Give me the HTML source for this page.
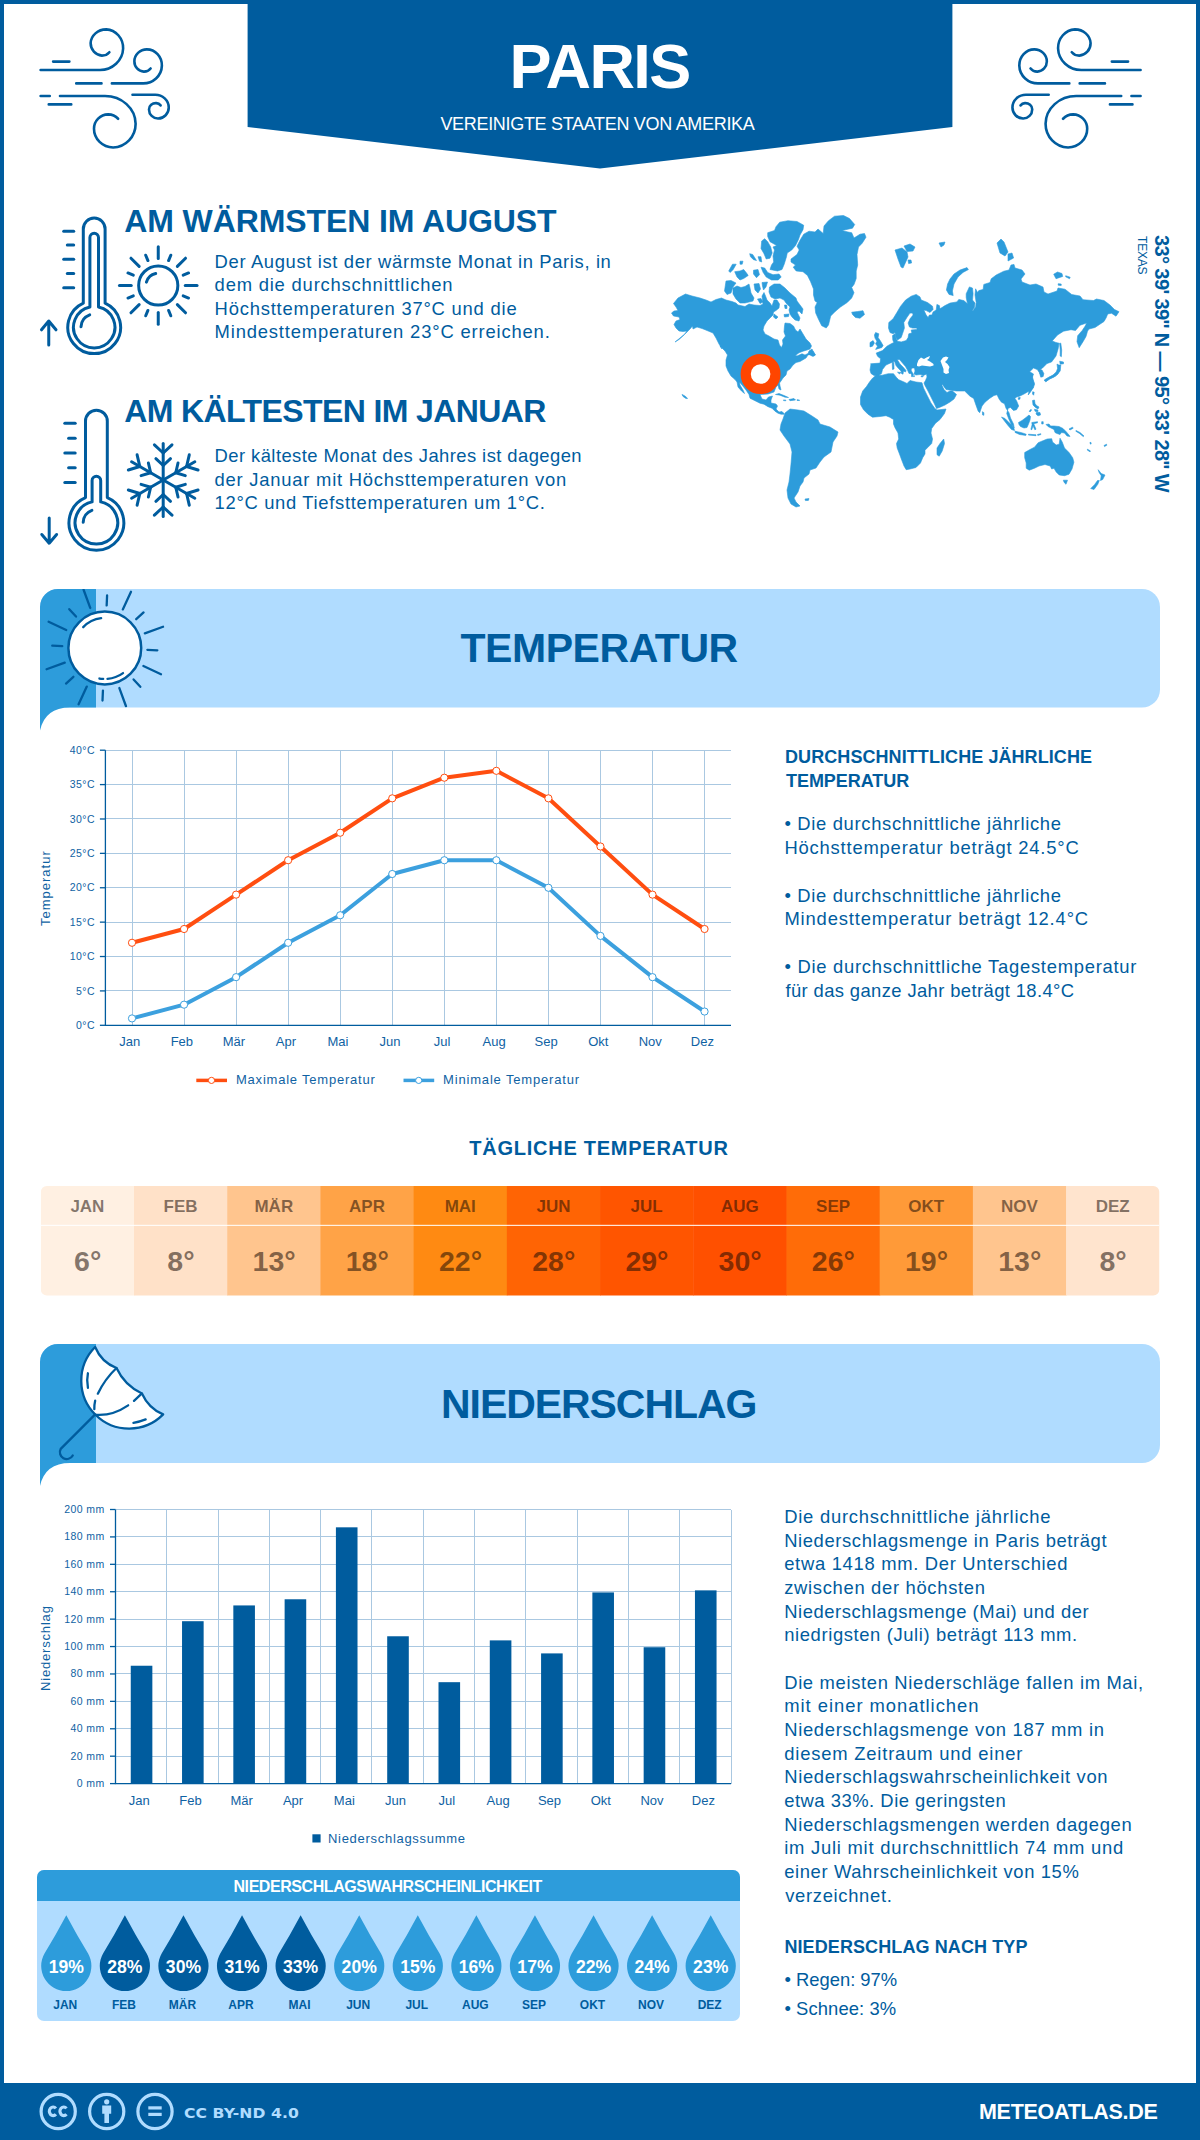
<!DOCTYPE html>
<html lang="de"><head><meta charset="utf-8"><title>Paris – Klima</title>
<style>
html,body{margin:0;padding:0;background:#fff}
#page{position:relative;width:1200px;height:2140px;overflow:hidden;font-family:'Liberation Sans', sans-serif}
.t{position:absolute;white-space:nowrap;margin:0;padding:0}
</style></head><body><div id="page">
<svg width="1200" height="2140" viewBox="0 0 1200 2140" style="position:absolute;left:0;top:0"><defs><clipPath id="cb1"><rect x="40" y="589" width="1120" height="118.5"/></clipPath></defs><rect x="0" y="0" width="1200" height="2140" fill="#005C9E"/><rect x="4" y="4" width="1192" height="2079" fill="#fff"/><path d="M247.6,0H952.4V127L600,168.5L247.6,127Z" fill="#005C9E"/><g fill="none" stroke="#005C9E" stroke-width="2.6" stroke-linecap="round"><path transform="translate(30,20)" d="M23.12,41.62H39.38M10.62,50.00H70.00A23.12,22.25 0 0 0 93.12,28.50A17.50,18.75 0 0 0 76.25,9.38A15.62,14.38 0 0 0 60.62,23.12A11.88,12.50 0 0 0 71.88,35.62A9.38,8.75 0 0 0 79.38,32.25M46.25,63.38H71.50M81.88,63.38H112.50A18.75,18.12 0 0 0 131.88,45.62A15.00,16.00 0 0 0 116.88,29.38A12.50,11.88 0 0 0 104.38,41.25A9.75,10.25 0 0 0 113.75,51.62A8.12,7.50 0 0 0 120.62,48.50M10.62,76.00H19.75M30.00,76.00H75.00A30.62,28.12 0 0 1 105.62,103.75A22.75,23.75 0 0 1 83.12,127.50A19.38,18.75 0 0 1 64.00,108.75A14.38,14.38 0 0 1 78.12,94.38A13.75,12.50 0 0 1 88.12,98.75M18.75,84.38H41.25M102.50,74.75H125.00A13.50,12.75 0 0 1 138.75,87.50A10.75,11.00 0 0 1 128.12,98.50A9.00,9.12 0 0 1 119.00,89.38A6.88,6.25 0 0 1 126.25,83.12A6.25,5.62 0 0 1 130.62,85.38"/><path transform="translate(1151.2,20) scale(-1,1)" d="M23.12,41.62H39.38M10.62,50.00H70.00A23.12,22.25 0 0 0 93.12,28.50A17.50,18.75 0 0 0 76.25,9.38A15.62,14.38 0 0 0 60.62,23.12A11.88,12.50 0 0 0 71.88,35.62A9.38,8.75 0 0 0 79.38,32.25M46.25,63.38H71.50M81.88,63.38H112.50A18.75,18.12 0 0 0 131.88,45.62A15.00,16.00 0 0 0 116.88,29.38A12.50,11.88 0 0 0 104.38,41.25A9.75,10.25 0 0 0 113.75,51.62A8.12,7.50 0 0 0 120.62,48.50M10.62,76.00H19.75M30.00,76.00H75.00A30.62,28.12 0 0 1 105.62,103.75A22.75,23.75 0 0 1 83.12,127.50A19.38,18.75 0 0 1 64.00,108.75A14.38,14.38 0 0 1 78.12,94.38A13.75,12.50 0 0 1 88.12,98.75M18.75,84.38H41.25M102.50,74.75H125.00A13.50,12.75 0 0 1 138.75,87.50A10.75,11.00 0 0 1 128.12,98.50A9.00,9.12 0 0 1 119.00,89.38A6.88,6.25 0 0 1 126.25,83.12A6.25,5.62 0 0 1 130.62,85.38"/></g><g fill="none" stroke="#005C9E" stroke-width="3" stroke-linecap="round" stroke-linejoin="round"><path d="M83.30,303.16V228.90A10.9,10.9 0 0 1 105.10,228.90V303.16A26.4,26.4 0 1 1 83.30,303.16Z"/><path d="M89.90,306.95V237.60A4.3,4.3 0 0 1 98.50,237.60V306.95A20.7,20.7 0 1 1 89.90,306.95Z"/><path d="M81.01,326.74A13.2,13.2 0 0 1 89.69,314.80"/><path d="M63.70,231.20H73.70"/><path d="M67.30,245.00H73.70"/><path d="M63.70,259.25H73.70"/><path d="M67.30,273.50H73.70"/><path d="M63.70,287.75H73.70"/><path d="M48.75,345V321.5M41.5,329.8L48.75,321L56,329.8"/><circle cx="158.25" cy="285.5" r="19.6"/><path d="M185.25,285.50L197.05,285.50"/><path d="M183.19,295.83L188.55,298.05"/><path d="M177.34,304.59L185.54,312.79"/><path d="M168.58,310.44L170.80,315.80"/><path d="M158.25,312.50L158.25,324.30"/><path d="M147.92,310.44L145.70,315.80"/><path d="M139.16,304.59L130.96,312.79"/><path d="M133.31,295.83L127.95,298.05"/><path d="M131.25,285.50L119.45,285.50"/><path d="M133.31,275.17L127.95,272.95"/><path d="M139.16,266.41L130.96,258.21"/><path d="M147.92,260.56L145.70,255.20"/><path d="M158.25,258.50L158.25,246.70"/><path d="M168.58,260.56L170.80,255.20"/><path d="M177.34,266.41L185.54,258.21"/><path d="M183.19,275.17L188.55,272.95"/><path d="M146.43,282.11A12.3,12.3 0 0 1 155.69,273.47"/><path d="M85.50,497.61V421.10A10.9,10.9 0 0 1 107.30,421.10V497.61A27.4,27.4 0 1 1 85.50,497.61Z"/><path d="M92.10,501.89V480.50A4.3,4.3 0 0 1 100.70,480.50V501.89A21.3,21.3 0 1 1 92.10,501.89Z"/><path d="M83.21,522.29A13.2,13.2 0 0 1 91.89,510.35"/><path d="M64.80,423.30H75.20"/><path d="M68.60,438.30H75.20"/><path d="M64.80,453.00H75.20"/><path d="M68.60,467.70H75.20"/><path d="M64.80,482.50H75.20"/><path d="M49.2,518V542M41.8,534.5L49.2,543.2L56.6,534.5"/><path d="M163.20,480.00L163.20,443.50"/><path d="M163.20,453.00L154.42,444.82"/><path d="M163.20,453.00L171.98,444.82"/><path d="M163.20,465.50L155.89,458.68"/><path d="M163.20,465.50L170.51,458.68"/><path d="M163.20,480.00L194.81,461.75"/><path d="M186.58,466.50L189.28,454.81"/><path d="M186.58,466.50L198.06,470.01"/><path d="M175.76,472.75L178.01,463.01"/><path d="M175.76,472.75L185.32,475.67"/><path d="M163.20,480.00L194.81,498.25"/><path d="M186.58,493.50L198.06,489.99"/><path d="M186.58,493.50L189.28,505.19"/><path d="M175.76,487.25L185.32,484.33"/><path d="M175.76,487.25L178.01,496.99"/><path d="M163.20,480.00L163.20,516.50"/><path d="M163.20,507.00L171.98,515.18"/><path d="M163.20,507.00L154.42,515.18"/><path d="M163.20,494.50L170.51,501.32"/><path d="M163.20,494.50L155.89,501.32"/><path d="M163.20,480.00L131.59,498.25"/><path d="M139.82,493.50L137.12,505.19"/><path d="M139.82,493.50L128.34,489.99"/><path d="M150.64,487.25L148.39,496.99"/><path d="M150.64,487.25L141.08,484.33"/><path d="M163.20,480.00L131.59,461.75"/><path d="M139.82,466.50L128.34,470.01"/><path d="M139.82,466.50L137.12,454.81"/><path d="M150.64,472.75L141.08,475.67"/><path d="M150.64,472.75L148.39,463.01"/></g><path d="M673.5,303.5 678,298 685.5,294 692,296 700,298 706,300 711,302 716,299.5 721.5,298 726,300 732,301.5 736,303 738,305 745,306.5 749,304 754,305 760,305.5 763,304 762,296 764,292.5 765.5,296 767,300 770,303 772,306 774,300 777,300 779.5,304 779,308 776,310.5 773.5,312 773,315 770,318 767,321 764,326 763,330 765,334 769,336 774,339 778,340 779.5,345 781.5,347.5 783,344 782.5,340 785.5,336 784,332 784.5,326 785,323 790,323.5 793.5,326 795.5,330 798,332 800,329 803,334 806,339 810,343 811.5,346 810,349 807,350 803,351.2 799,352.8 795,355.8 797.5,355.8 802,353.8 805,355 813,351 815.5,355 813,356.5 810,354 808,355 806,358 800,361.5 796,362.5 793,365 790,369 787,371 786,375 783,378 781,381 779.5,383 780,386 781,390 779,389 778,385 776,387 774,392 768,394 760,394.5 762,399 766,400 768.5,397 772.5,396 771,400 771,403 776,404 777.5,406 776,409 779,412 782,411.5 784,413.5 784,414.2 781,414.2 778,413.2 775,411.2 772,408.2 768,406.7 764,404.2 760,403.2 754,400.2 750,398.2 749,394.5 746,390 742,385 739.5,382 740,385 743,390 744.5,393.5 741.5,391 738,387 737,382 735,379.5 731,376 728,371 726,366 726,360 727.5,355 725,351 720,346 722,349 719,344 716,338 713,333 707,330.5 702,328.5 697,327 693,329 692.5,326 690,329 686,333 680,338 675,342 679,339.5 684,335 687,331 683,331.5 679,331 676,328 674,324.5 676,321 680,319.5 679,317 673.5,316 671.5,313 674,311 678,310.5 676,307ZM809,351 812,349 815,355 812,356 808,354ZM767.7,232.7 774.5,230.5 776,226.7 779.7,222.2 788,220.7 797,221.5 803.7,225.2 803,229.7 800,235 798.5,239.5 795.5,245.5 791.7,250 787.2,253 786.5,256.7 784.2,264.2 782,269.5 777.5,271 770,269.5 771.5,265 773.7,262 773,256 774.5,250 773,247 776.7,245.5 770,241.7 767.7,236.5ZM761.7,241 764.7,238.7 767.7,241.7 770.7,247 772.2,253 770,258.2 766.2,259 764,253.7 761,248.5ZM761,267.2 764.7,268 767.7,272.5 773,274.7 779,274 781.2,277 778.2,280 771.5,280 766.2,277 763.2,272.5ZM734.7,271.7 740,271 743.7,269.5 746.7,273.2 748.2,275.5 743.7,278.5 740,280 737,277ZM753.5,270.2 758,269.5 759.5,274.7 756.5,277.7 753.5,274ZM728.7,271 732.5,264.2 736.2,264.2 733.2,269.5 730.2,272.5ZM740,261.2 743,261.2 742.2,264.2 740,264.2ZM749.7,253.7 752.7,254.5 756.5,260.5 753.5,259.7 750.5,256.7ZM758,256.7 761,256.7 761.7,262 759.5,261.2ZM769.5,287 774,284 780,284 785,288 790,293 796,298 797,301 803,309 802,314 799,311 797,312 800,318 799,321 795,320 792,317 790,314 789,310 790,307 786,303 784,300 780,298 775,299 771,297 769,292ZM733,288 737,286 741,287.5 745,286.5 749,284 750,288 751,293 754,298 753,301 749,302 745,303 740,303 736,299 733,294ZM726,281 731,280.5 736,283 733,287 731,293 727,294.5 724.5,291ZM754,284 759,283.5 760.5,289 758,293 755,290ZM762,282.5 767.5,282 766,287 763.5,290 762.5,286ZM757.5,299 761,298.5 763,302 760,303.5ZM784,314.5 789,314 788.5,316.5 784.5,317ZM774,314 778,317 776,319 773.5,317ZM784.5,305 786.8,305 787,308.5 785,308.5ZM803.7,234.2 809,231.2 815,232 818,229 823.2,233.5 824,226 828.5,220.7 834.5,216.2 843.5,215.5 849.5,218.5 854.7,224.5 852.5,228.2 842,230.5 848,232 851.7,232.7 854,238 860,234.2 864.5,233.5 866,237.2 862.2,243.2 858.5,247 857,254.5 857.7,265 856.2,271 856.2,278.5 854,284.5 851.7,287.5 854,292.7 851.7,298 847.2,302.5 840.5,307 835.2,311.5 830.7,316 828.5,325 826.2,328 821.7,325.7 818.7,319.7 815.7,313 815,307 817.2,302.5 815,301 813.5,295 813.5,289 810.5,281.5 807.5,275.5 803,271.7 796.2,271 793.2,267.2 795.5,265 791,262 791,259 797,254.5 799.2,250 797,246.2 800,240.2ZM851.7,312.2 857.7,311.5 863,310.7 864.5,314.5 860,318.2 855.5,317.5 852.5,314.5ZM785,413 790,409 798,410 804,411 812,416 818,420 820,424 830,427 838,432 837,436 833,442 831,452 824,457 820,462 816,468 810,470 809,474 804,478 803,482 800,486 798,492 794,498 796,502 800,506 796,507 791,504 788,498 787,490 789,482 790,474 791,464 792,452 790,444 784,436 780,430 781,424 783,419ZM775.5,394.5 779,393.5 784,395.5 788.5,397.5 785,397.2 780,395.2ZM789,399.5 794,398.5 795.5,400 790,400.7ZM797,399.7 799.5,400 799.4,400.6 797,400.4ZM783.5,399.9 786,400.2 785.8,400.8 783.6,400.6ZM805,499 809,498.6 808.4,500.4 805.4,500.6ZM682,394.4 685,396 687.6,398.4 686,398.6 683,396.4ZM876.2,375.2 882.2,375.2 888.2,373.7 893.5,373.7 896.5,377.5 898.7,379.7 904,382 907,383.5 910,380.5 916,382 922,382.7 923.5,388 927.2,395.5 931,403 934.9,408.5 937,410 946,409 944.5,413.5 940,419.5 935.5,423.2 931.7,428.5 931,433 932.5,439 931.7,443.5 928,447.2 925,450.2 925,454 922.7,457.7 920.5,463 916,467.5 910,469 906.2,469.7 904,466 901.7,460 899.5,454 897.2,448 896.5,443.5 898.7,439 898,433 895,427.7 893.5,424 893.5,419.5 889.7,417.2 886,415.7 880,416.5 872.5,417.2 868,414.2 863.5,409.7 860.5,404.5 860.5,397 862.7,391 866.5,386.5 869.5,382 872.5,378.2ZM943.7,439 944.5,443.5 942.2,451 939.2,456.2 937,454.7 937,448 940,443.5ZM870.6,363.8 880,363.1 880.6,358.8 877.5,356.2 876.2,353.1 882.5,350.6 886.9,346.2 891.2,343.8 893.8,342.5 892.8,340 892.5,335.6 895,333.8 896.2,338.8 897.5,341.2 901.2,341.9 906.2,340.6 908.1,337.5 908.8,333.8 911.9,333.1 911.2,330 916.9,329.4 916.9,328.1 912.5,328.1 909.4,326.9 908.1,323.1 910,318.8 913.1,315 912.5,313.1 910,313.1 906.9,317.5 903.8,322.5 904.4,328.1 902.5,333.8 901.2,337.5 897.5,340 896.2,338.1 895,332.5 893.1,333.8 890,332.5 888.5,328.1 888.8,322.5 893.1,318.8 896.9,312.5 900.6,306.2 905.6,300 911.2,296.2 916.2,294.4 920,296.9 921.2,300 927.5,302.5 932.5,306.2 933.1,309.4 930,312.5 926.2,310.6 923.8,310 926.2,315 928.1,317.5 929.4,315 931.9,315 933.1,311.9 936.2,310 936.9,304.4 939.4,305.6 940,308.8 945,305.6 950,303.1 956.9,301.9 958.8,299.4 963.8,300.6 967.5,303.8 966.2,297.5 966.2,293.8 969.4,286.9 972.5,288.1 973.1,293.8 972.5,300 975,303.1 974.4,307.5 971.9,311.2 973.1,310.6 975.6,306.9 976.2,302.5 975,295 975.6,288.8 977.5,292.5 978.8,290.6 983.1,289.4 983.8,284.4 990,282.5 991.2,278.8 996.2,275 1003.8,271.2 1009,270 1011,265 1014,264.4 1015,268 1022,270 1025,274 1021,279 1022,282 1030,285 1036,284 1043,287 1044,292 1048,294 1057,291 1058,288 1065,289.2 1071.7,294.5 1080,296 1083,299.7 1093.5,300.5 1096.5,299 1104,300.5 1110,305 1114.5,309.5 1119,311.7 1116,316.2 1111.5,313.2 1107.7,314 1106.2,317.7 1104,321.5 1099.5,324.5 1095,327.5 1089,329 1087.5,331.2 1086,336.5 1083,341.7 1079.2,347.7 1077,341.7 1077.7,335.7 1082.2,330.5 1085.2,326 1086.7,323 1080,325.2 1075.5,330.5 1071,329.7 1063.5,331.2 1057.5,335 1052.2,341 1056,342.5 1059,343.2 1058.2,348.5 1056,356 1051.5,362 1047,363.5 1042.5,368 1039.5,370.2 1041,371 1043.2,374 1041.7,377 1039.5,372.5 1037.2,369.5 1033.5,368 1029.7,371.7 1033.5,374 1032,378.5 1034.2,383 1033.5,387.5 1030.5,392 1028.2,395 1032.2,376 1034.5,384.2 1033,388 1029.2,391 1024,394 1019.5,396.2 1016.5,397 1015,398.5 1016.5,400.7 1018.7,406 1016.5,409.7 1013.5,410.5 1010.5,407.5 1008.2,408.2 1006.7,413.5 1009,419.5 1012,425.5 1014.2,427.7 1013.5,424 1010.5,418 1009,412.7 1006,408.2 1004.5,403.7 1001.5,402.2 999.2,399.2 997,394.7 994,395.5 989.5,398.5 985,402.2 982,406 979.7,412.7 978.2,411.2 976,405.2 973.7,398.5 970,396.2 964.7,391 956.5,391 950.5,390.2 946,389.5 942.2,384.2 942,385.5 944,389.5 947,392.5 950,391 952.5,391 956.5,394.5 954,399 950,402 945,405 940,407.2 936.5,408.5 934.5,404 931,397 928,391 925,385.5 924,383 925.5,380.5 927,377 926.5,374 924,375.2 920,374.5 916,375 914,374 915,371 914.5,368 912,368 911,370 912,372 913.5,374.5 912,376 911,373.5 909,373.5 907.5,370 905.5,366.5 902.5,363 899.5,359.5 897.2,359.5 894.5,361.2 890,363.2 886,365 882.5,369.5 881.5,373.5 877.5,376.2 874,375.5 871,373.5 870,370 871,364ZM894.5,361.2 897.2,359.5 900,364 903,367 906,370.5 905.5,372 903.5,371 903,374.2 901.5,373.5 901,371 898.5,368.5 896,365.5ZM897.5,372.2 901,372.5 899.5,374ZM892.2,362.5 893.8,362.5 894,369 892.5,369.5ZM911.5,375.7 914.5,375.7 914.5,376.6 911.5,376.6ZM921,376 923.5,375.5 923,376.8 921.2,376.8ZM875.6,332.5 878.8,333.8 878.1,337.5 880.6,341.2 883.1,345.6 881.9,347.5 875.6,349.4 877.5,346.2 875.6,343.8 876.9,341.2 875,338.1 874.4,335ZM870,342.5 873.1,340.6 874.4,343.1 872.5,346.2 870,346.9ZM895,250 902,248 907,252 908,257 903,268 901,267 898,259ZM904,246 910,244 915,247 913,251 907,251.6ZM908,260 911,260 911.6,263 908.6,263.6ZM939,243 945,242 944,245 941,247ZM967,267.6 968.4,269.6 963,272.4 958,277 954,284 952.4,291 953.2,295.6 949,294.4 946.4,290 947.6,284 950,279 954,274 960,270ZM997,243 1001,239 1004,242 1008,252 1005,256 1000,253ZM1008,254 1012,253 1013.6,258 1008,261ZM1053.7,274.2 1057.5,272 1062,273.5 1062.7,276.5 1056,278.7ZM1065.7,275.7 1070.2,277.2 1069.5,278.7 1065.7,276.8ZM1058.2,283.7 1061.2,284 1061.2,285.5 1058.2,285.2ZM1059.6,343.2 1060.8,343.2 1061.7,350 1061.4,356.7 1060.2,356 1060.2,350ZM1059.7,361.2 1063.5,362 1063.5,363.8 1060.2,364.2ZM1058.7,365 1060.8,365 1060.2,371 1056,375.8 1050,378.8 1045.5,381.8 1044.3,380 1048.5,377.4 1053.7,375.2 1057.8,371ZM1038.5,369 1042,370 1043.8,373.5 1043.2,376.5 1040.8,377.2 1039.8,374 1039,371.5ZM1057,364 1059.5,365.5 1059.8,370 1058,374 1054,377 1049.5,379 1046,381.5 1044.5,380 1048.5,377.5 1053,375 1056.2,372 1057.6,368.5ZM982.4,411.7 983.9,412.7 983.8,415.3 982.6,415ZM1032.7,391.7 1034.2,392.2 1033.6,395.2 1032.5,394ZM1018.3,397.7 1020.2,397.4 1019.9,399.2 1018.3,399.4ZM1015,431.2 1021.7,432.7 1026.2,434.2 1025.8,435.4 1019.5,434.5 1015,432.4ZM1028.5,434.2 1036,434.8 1036,435.7 1028.5,435.1ZM1037.5,434.5 1040.8,433.7 1040.8,434.6 1037.8,435.4ZM1031.8,422.5 1037.5,421.7 1037.5,422.8 1033.7,423.7 1036,429.2 1034.8,429.7 1033,425.8 1031.8,429.7 1030.9,429.4 1032.1,424.7ZM1029.2,411.2 1031,409.3 1031.5,410.2 1030,412ZM1041.7,421.7 1043.2,421.7 1043.2,424 1041.7,424ZM1018.5,422.5 1022,420.5 1026,417.5 1029,415 1030.5,416.5 1030,420 1028.5,424 1027,427.5 1024,428 1020.5,426.5 1019,424.5ZM1001.5,417 1005,418.5 1009.5,423 1013.5,426.5 1014.5,430.5 1011.5,429.5 1008,425.5 1004.5,421ZM1032.5,400.5 1034.5,400 1035,403.5 1036.5,405.5 1039,407 1038,409 1035.5,407.5 1033,405ZM1034.5,409.2 1038,410 1037.8,411.8 1035,411.2ZM1036.5,412.2 1040,412.5 1040.5,415 1038,415.8 1036,414ZM1046,424.5 1049,424 1050.5,426 1054,426 1059,426.5 1063,428.5 1066,431.5 1069,435 1070,436.5 1067,436 1064.5,433 1061.5,432.5 1060,434.5 1057,433.5 1055,432.5 1054,429.5 1051,428 1048,426.5ZM1069,429 1072.5,427.2 1073.2,428.2 1070,430ZM1076,430.5 1080,432.5 1084,436 1083.2,436.6 1079.5,433.5 1075.8,431.2ZM1090,442.2 1091.2,442.8 1091,444.2 1090,443.6ZM1087.5,449.2 1090.5,451 1090,451.8 1087.2,450ZM1104,445.5 1106.5,444.2 1106.8,445.2 1104.5,446.6ZM1024.7,452.5 1030,449.5 1034.5,447.2 1038.2,442.7 1043.5,440.5 1047.2,439 1051.7,438.7 1052.5,442 1056.2,445 1059.2,444.2 1060,438.2 1062.2,442 1064.5,448 1069,452.5 1072.7,457.7 1073.9,462.2 1072,469 1069,474.2 1064.5,475.7 1059.2,475 1056.2,472 1054,468.2 1051.7,469 1050.2,466 1045,464.5 1039,466 1034.5,468.2 1029.2,470.2 1026.2,468.2 1026.2,463 1024.7,457.7ZM1063.3,480.2 1067.5,480.2 1066,484.3 1064.2,482.5ZM1098.2,469.7 1101.2,473.5 1105,475 1102.7,479.5 1100.5,480.5 1101.2,475.7 1099,472.3ZM1099.3,480.5 1097.8,484.3 1094,489.5 1090.7,488.5 1094.5,484.7 1097.5,480.5Z" fill="#2D9CDB" stroke="#2D9CDB" stroke-width="0.6" stroke-linejoin="round"/><path d="M917,364 918.5,360 921,357.5 924,359 926.5,357.5 930,356 929,358.5 927,360 930,361.5 933.5,364 933.5,365.5 930,366.5 926,366 922,365.5 919,366.5 917,366ZM940.5,361 943,357.5 946,356.5 948.5,357.5 947,360 945,362 947.5,364 949.5,367 948.5,370 949,373 946,374 943.5,372.5 943.5,369 942,365Z" fill="#fff"/><circle cx="760.6" cy="374" r="14.9" fill="#fff" stroke="#FF4500" stroke-width="10.2"/><path d="M40,607A18,18 0 0 1 58,589H1142A18,18 0 0 1 1160,607V689.5A18,18 0 0 1 1142,707.5H40Z" fill="#B0DCFF"/><path d="M40,607A18,18 0 0 1 58,589H96V707.5H70Q45,707.5 40,730.5Z" fill="#2D9CDB"/><g stroke="#005C9E" stroke-width="2.3" stroke-linecap="round" fill="none" clip-path="url(#cb1)"><path d="M106.66,605.44L107.09,595.45"/><path d="M122.80,609.39L131.00,591.81"/><path d="M136.21,619.22L143.58,612.46"/><path d="M144.83,633.43L163.06,626.79"/><path d="M147.36,649.86L157.35,650.29"/><path d="M143.41,666.00L160.99,674.20"/><path d="M133.58,679.41L140.34,686.78"/><path d="M119.37,688.03L126.01,706.26"/><path d="M102.94,690.56L102.51,700.55"/><path d="M86.80,686.61L78.60,704.19"/><path d="M73.39,676.78L66.02,683.54"/><path d="M64.77,662.57L46.54,669.21"/><path d="M62.24,646.14L52.25,645.71"/><path d="M66.19,630.00L48.61,621.80"/><path d="M76.02,616.59L69.26,609.22"/><path d="M90.23,607.97L83.59,589.74"/><circle cx="104.8" cy="648" r="36.4" fill="#fff" stroke-width="2.5"/><path d="M83.22,627.16A30,30 0 0 1 101.14,618.22"/><path d="M123.02,673.08A31,31 0 0 1 107.50,678.88"/><path d="M103.18,678.96A31,31 0 0 1 99.42,678.53"/></g><path d="M40,1362A18,18 0 0 1 58,1344H1142A18,18 0 0 1 1160,1362V1445A18,18 0 0 1 1142,1463H40Z" fill="#B0DCFF"/><path d="M40,1362A18,18 0 0 1 58,1344H96V1463H70Q45,1463 40,1486Z" fill="#2D9CDB"/><g stroke="#005C9E" stroke-width="2.3" stroke-linecap="round" stroke-linejoin="round" fill="none"><path fill="#fff" d="M95.15,1347.00A47.25,47.25 0 0 0 163.17,1414.43Q148.58,1408.25 141.93,1393.43Q124.67,1385.50 116.50,1368.00Q101.33,1362.17 95.15,1347.00Z"/><path d="M94.33,1409.07Q94.10,1405.33 95.15,1400.67"/><path d="M97.83,1393.67Q104.83,1379.08 116.50,1368.00"/><path d="M94.92,1414.67Q111.83,1416.42 128.17,1405.33"/><path d="M134.00,1400.90L141.93,1393.43"/><path d="M87.92,1373.25Q86.40,1380.25 87.92,1387.83"/><path d="M133.42,1422.83Q139.83,1421.67 145.67,1419.33"/><path d="M94.92,1414.67L60.73,1448.85A6.42,6.42 0 0 0 72.75,1455.50"/></g><g stroke="#AAC8E1" stroke-width="1" shape-rendering="crispEdges"><path d="M105.4,1025.30H731"/><path d="M105.4,990.91H731"/><path d="M105.4,956.52H731"/><path d="M105.4,922.14H731"/><path d="M105.4,887.75H731"/><path d="M105.4,853.36H731"/><path d="M105.4,818.98H731"/><path d="M105.4,784.59H731"/><path d="M105.4,750.20H731"/><path d="M132.00,750.2V1025.3"/><path d="M184.05,750.2V1025.3"/><path d="M236.10,750.2V1025.3"/><path d="M288.15,750.2V1025.3"/><path d="M340.20,750.2V1025.3"/><path d="M392.25,750.2V1025.3"/><path d="M444.30,750.2V1025.3"/><path d="M496.35,750.2V1025.3"/><path d="M548.40,750.2V1025.3"/><path d="M600.45,750.2V1025.3"/><path d="M652.50,750.2V1025.3"/><path d="M704.55,750.2V1025.3"/></g><g stroke="#005C9E" stroke-width="1.3" fill="none"><path d="M105.4,750.2V1025.3H731"/><path d="M99.9,1025.30H105.4"/><path d="M99.9,990.91H105.4"/><path d="M99.9,956.52H105.4"/><path d="M99.9,922.14H105.4"/><path d="M99.9,887.75H105.4"/><path d="M99.9,853.36H105.4"/><path d="M99.9,818.98H105.4"/><path d="M99.9,784.59H105.4"/><path d="M99.9,750.20H105.4"/></g><path d="M132.00,942.77 L184.05,929.01 L236.10,894.63 L288.15,860.24 L340.20,832.73 L392.25,798.34 L444.30,777.71 L496.35,770.83 L548.40,798.34 L600.45,846.49 L652.50,894.63 L704.55,929.01" fill="none" stroke="#FF4E10" stroke-width="4" stroke-linejoin="round" stroke-linecap="round"/><circle cx="132.00" cy="942.77" r="3.6" fill="#fff" stroke="#FF4E10" stroke-width="1"/><circle cx="184.05" cy="929.01" r="3.6" fill="#fff" stroke="#FF4E10" stroke-width="1"/><circle cx="236.10" cy="894.63" r="3.6" fill="#fff" stroke="#FF4E10" stroke-width="1"/><circle cx="288.15" cy="860.24" r="3.6" fill="#fff" stroke="#FF4E10" stroke-width="1"/><circle cx="340.20" cy="832.73" r="3.6" fill="#fff" stroke="#FF4E10" stroke-width="1"/><circle cx="392.25" cy="798.34" r="3.6" fill="#fff" stroke="#FF4E10" stroke-width="1"/><circle cx="444.30" cy="777.71" r="3.6" fill="#fff" stroke="#FF4E10" stroke-width="1"/><circle cx="496.35" cy="770.83" r="3.6" fill="#fff" stroke="#FF4E10" stroke-width="1"/><circle cx="548.40" cy="798.34" r="3.6" fill="#fff" stroke="#FF4E10" stroke-width="1"/><circle cx="600.45" cy="846.49" r="3.6" fill="#fff" stroke="#FF4E10" stroke-width="1"/><circle cx="652.50" cy="894.63" r="3.6" fill="#fff" stroke="#FF4E10" stroke-width="1"/><circle cx="704.55" cy="929.01" r="3.6" fill="#fff" stroke="#FF4E10" stroke-width="1"/><path d="M132.00,1018.42 L184.05,1004.67 L236.10,977.16 L288.15,942.77 L340.20,915.26 L392.25,874.00 L444.30,860.24 L496.35,860.24 L548.40,887.75 L600.45,935.89 L652.50,977.16 L704.55,1011.54" fill="none" stroke="#3CA0DE" stroke-width="4" stroke-linejoin="round" stroke-linecap="round"/><circle cx="132.00" cy="1018.42" r="3.6" fill="#fff" stroke="#3CA0DE" stroke-width="1"/><circle cx="184.05" cy="1004.67" r="3.6" fill="#fff" stroke="#3CA0DE" stroke-width="1"/><circle cx="236.10" cy="977.16" r="3.6" fill="#fff" stroke="#3CA0DE" stroke-width="1"/><circle cx="288.15" cy="942.77" r="3.6" fill="#fff" stroke="#3CA0DE" stroke-width="1"/><circle cx="340.20" cy="915.26" r="3.6" fill="#fff" stroke="#3CA0DE" stroke-width="1"/><circle cx="392.25" cy="874.00" r="3.6" fill="#fff" stroke="#3CA0DE" stroke-width="1"/><circle cx="444.30" cy="860.24" r="3.6" fill="#fff" stroke="#3CA0DE" stroke-width="1"/><circle cx="496.35" cy="860.24" r="3.6" fill="#fff" stroke="#3CA0DE" stroke-width="1"/><circle cx="548.40" cy="887.75" r="3.6" fill="#fff" stroke="#3CA0DE" stroke-width="1"/><circle cx="600.45" cy="935.89" r="3.6" fill="#fff" stroke="#3CA0DE" stroke-width="1"/><circle cx="652.50" cy="977.16" r="3.6" fill="#fff" stroke="#3CA0DE" stroke-width="1"/><circle cx="704.55" cy="1011.54" r="3.6" fill="#fff" stroke="#3CA0DE" stroke-width="1"/><path d="M196.3,1080.4H227.0" stroke="#FF4E10" stroke-width="3.5"/><circle cx="211.5" cy="1080.4" r="3.1" fill="#fff" stroke="#FF4E10" stroke-width="1"/><path d="M403.5,1080.4H434.2" stroke="#3CA0DE" stroke-width="3.5"/><circle cx="418.7" cy="1080.4" r="3.1" fill="#fff" stroke="#3CA0DE" stroke-width="1"/><clipPath id="ctab"><rect x="40.80" y="1186" width="1118.50" height="109.5" rx="6"/></clipPath><g clip-path="url(#ctab)"><rect x="40.80" y="1186" width="93.71" height="110" fill="#FFF0E2"/><rect x="134.01" y="1186" width="93.71" height="110" fill="#FFE1C8"/><rect x="227.22" y="1186" width="93.71" height="110" fill="#FFC58E"/><rect x="320.43" y="1186" width="93.71" height="110" fill="#FFA347"/><rect x="413.63" y="1186" width="93.71" height="110" fill="#FF8A12"/><rect x="506.84" y="1186" width="93.71" height="110" fill="#FF6404"/><rect x="600.05" y="1186" width="93.71" height="110" fill="#FF5500"/><rect x="693.26" y="1186" width="93.71" height="110" fill="#FF5000"/><rect x="786.47" y="1186" width="93.71" height="110" fill="#FF6C08"/><rect x="879.67" y="1186" width="93.71" height="110" fill="#FF9A38"/><rect x="972.88" y="1186" width="93.71" height="110" fill="#FFC58E"/><rect x="1066.09" y="1186" width="93.71" height="110" fill="#FFE4CE"/><rect x="40.8" y="1224.8" width="1118.5" height="1.2" fill="#fff" opacity="0.85"/></g><g stroke="#AAC8E1" stroke-width="1" shape-rendering="crispEdges"><path d="M115.5,1783.60H731"/><path d="M115.5,1756.19H731"/><path d="M115.5,1728.78H731"/><path d="M115.5,1701.37H731"/><path d="M115.5,1673.96H731"/><path d="M115.5,1646.55H731"/><path d="M115.5,1619.14H731"/><path d="M115.5,1591.73H731"/><path d="M115.5,1564.32H731"/><path d="M115.5,1536.91H731"/><path d="M115.5,1509.50H731"/><path d="M166.79,1509.5V1783.6"/><path d="M218.08,1509.5V1783.6"/><path d="M269.38,1509.5V1783.6"/><path d="M320.67,1509.5V1783.6"/><path d="M371.96,1509.5V1783.6"/><path d="M423.25,1509.5V1783.6"/><path d="M474.54,1509.5V1783.6"/><path d="M525.83,1509.5V1783.6"/><path d="M577.12,1509.5V1783.6"/><path d="M628.42,1509.5V1783.6"/><path d="M679.71,1509.5V1783.6"/><path d="M731.00,1509.5V1783.6"/></g><rect x="130.75" y="1665.74" width="21.6" height="117.86" fill="#005C9E"/><rect x="182.04" y="1621.20" width="21.6" height="162.40" fill="#005C9E"/><rect x="233.33" y="1605.43" width="21.6" height="178.16" fill="#005C9E"/><rect x="284.62" y="1599.27" width="21.6" height="184.33" fill="#005C9E"/><rect x="335.91" y="1527.32" width="21.6" height="256.28" fill="#005C9E"/><rect x="387.20" y="1636.27" width="21.6" height="147.33" fill="#005C9E"/><rect x="438.50" y="1682.18" width="21.6" height="101.42" fill="#005C9E"/><rect x="489.79" y="1640.38" width="21.6" height="143.22" fill="#005C9E"/><rect x="541.08" y="1653.40" width="21.6" height="130.20" fill="#005C9E"/><rect x="592.37" y="1592.42" width="21.6" height="191.18" fill="#005C9E"/><rect x="643.66" y="1647.24" width="21.6" height="136.36" fill="#005C9E"/><rect x="694.95" y="1590.36" width="21.6" height="193.24" fill="#005C9E"/><g stroke="#005C9E" stroke-width="1.3" fill="none"><path d="M115.5,1509.5V1783.6H731"/><path d="M110.0,1783.60H115.5"/><path d="M110.0,1756.19H115.5"/><path d="M110.0,1728.78H115.5"/><path d="M110.0,1701.37H115.5"/><path d="M110.0,1673.96H115.5"/><path d="M110.0,1646.55H115.5"/><path d="M110.0,1619.14H115.5"/><path d="M110.0,1591.73H115.5"/><path d="M110.0,1564.32H115.5"/><path d="M110.0,1536.91H115.5"/><path d="M110.0,1509.50H115.5"/></g><rect x="312.4" y="1834.3" width="8.2" height="8.2" fill="#005C9E"/><rect x="37" y="1870" width="703" height="151" rx="7" fill="#B0DCFF"/><path d="M37,1901V1877A7,7 0 0 1 44,1870H733A7,7 0 0 1 740,1877V1901Z" fill="#2D9CDB"/><path d="M66.29,1915.3Q76.59,1934.77 88.09,1953.45A25.1,25.1 0 1 1 44.50,1953.45Q55.99,1934.77 66.29,1915.3Z" fill="#2D9CDB"/><path d="M124.88,1915.3Q135.17,1934.77 146.67,1953.45A25.1,25.1 0 1 1 103.08,1953.45Q114.58,1934.77 124.88,1915.3Z" fill="#005C9E"/><path d="M183.46,1915.3Q193.76,1934.77 205.25,1953.45A25.1,25.1 0 1 1 161.66,1953.45Q173.16,1934.77 183.46,1915.3Z" fill="#005C9E"/><path d="M242.04,1915.3Q252.34,1934.77 263.84,1953.45A25.1,25.1 0 1 1 220.25,1953.45Q231.74,1934.77 242.04,1915.3Z" fill="#005C9E"/><path d="M300.62,1915.3Q310.92,1934.77 322.42,1953.45A25.1,25.1 0 1 1 278.83,1953.45Q290.33,1934.77 300.62,1915.3Z" fill="#005C9E"/><path d="M359.21,1915.3Q369.51,1934.77 381.00,1953.45A25.1,25.1 0 1 1 337.41,1953.45Q348.91,1934.77 359.21,1915.3Z" fill="#2D9CDB"/><path d="M417.79,1915.3Q428.09,1934.77 439.59,1953.45A25.1,25.1 0 1 1 396.00,1953.45Q407.49,1934.77 417.79,1915.3Z" fill="#2D9CDB"/><path d="M476.38,1915.3Q486.67,1934.77 498.17,1953.45A25.1,25.1 0 1 1 454.58,1953.45Q466.08,1934.77 476.38,1915.3Z" fill="#2D9CDB"/><path d="M534.96,1915.3Q545.26,1934.77 556.75,1953.45A25.1,25.1 0 1 1 513.16,1953.45Q524.66,1934.77 534.96,1915.3Z" fill="#2D9CDB"/><path d="M593.54,1915.3Q603.84,1934.77 615.34,1953.45A25.1,25.1 0 1 1 571.75,1953.45Q583.24,1934.77 593.54,1915.3Z" fill="#2D9CDB"/><path d="M652.12,1915.3Q662.42,1934.77 673.92,1953.45A25.1,25.1 0 1 1 630.33,1953.45Q641.83,1934.77 652.12,1915.3Z" fill="#2D9CDB"/><path d="M710.71,1915.3Q721.01,1934.77 732.50,1953.45A25.1,25.1 0 1 1 688.91,1953.45Q700.41,1934.77 710.71,1915.3Z" fill="#2D9CDB"/><g fill="none" stroke="#B0DCFF" stroke-width="3.2"><circle cx="58.2" cy="2111.5" r="17.1"/><circle cx="106.7" cy="2111.5" r="17.1"/><circle cx="155" cy="2111.5" r="17.1"/></g><g fill="none" stroke="#B0DCFF" stroke-width="3.1"><path d="M55.90,2108.40A3.8,4.3 0 1 0 55.90,2114.20"/><path d="M66.50,2108.40A3.8,4.3 0 1 0 66.50,2114.20"/></g><g fill="#B0DCFF"><circle cx="106.7" cy="2101.8" r="2.6"/><path d="M102.2,2105.5h9v8.3h-2.2v9.2h-4.6v-9.2h-2.2z"/></g><g fill="#B0DCFF"><rect x="148.3" y="2106.3" width="13.4" height="3.2"/><rect x="148.3" y="2112.8" width="13.4" height="3.2"/></g></svg>
<div class="t" id="title" style="font:700 63px/1 'Liberation Sans', sans-serif;color:#fff;letter-spacing:-1.525px;left:509.60px;top:34.87px;">PARIS</div>
<div class="t" id="subtitle" style="font:400 18px/1 'Liberation Sans', sans-serif;color:#fff;letter-spacing:-0.310px;left:440.40px;top:115.16px;">VEREINIGTE STAATEN VON AMERIKA</div>
<div class="t" id="h_warm" style="font:700 32px/1 'Liberation Sans', sans-serif;color:#005C9E;letter-spacing:-0.100px;left:124.20px;top:204.71px;">AM WÄRMSTEN IM AUGUST</div>
<div class="t" id="h_cold" style="font:700 32px/1 'Liberation Sans', sans-serif;color:#005C9E;letter-spacing:-0.605px;left:124.20px;top:394.71px;">AM KÄLTESTEN IM JANUAR</div>
<div class="t" id="p1_0" style="font:400 18.4px/1 'Liberation Sans', sans-serif;color:#005C9E;letter-spacing:0.643px;left:214.60px;top:252.82px;">Der August ist der wärmste Monat in Paris, in</div>
<div class="t" id="p1_1" style="font:400 18.4px/1 'Liberation Sans', sans-serif;color:#005C9E;letter-spacing:0.804px;left:214.60px;top:276.37px;">dem die durchschnittlichen</div>
<div class="t" id="p1_2" style="font:400 18.4px/1 'Liberation Sans', sans-serif;color:#005C9E;letter-spacing:0.793px;left:214.60px;top:299.92px;">Höchsttemperaturen 37°C und die</div>
<div class="t" id="p1_3" style="font:400 18.4px/1 'Liberation Sans', sans-serif;color:#005C9E;letter-spacing:0.832px;left:214.60px;top:323.47px;">Mindesttemperaturen 23°C erreichen.</div>
<div class="t" id="p2_0" style="font:400 18.4px/1 'Liberation Sans', sans-serif;color:#005C9E;letter-spacing:0.433px;left:214.60px;top:447.42px;">Der kälteste Monat des Jahres ist dagegen</div>
<div class="t" id="p2_1" style="font:400 18.4px/1 'Liberation Sans', sans-serif;color:#005C9E;letter-spacing:0.769px;left:214.60px;top:470.72px;">der Januar mit Höchsttemperaturen von</div>
<div class="t" id="p2_2" style="font:400 18.4px/1 'Liberation Sans', sans-serif;color:#005C9E;letter-spacing:0.679px;left:214.60px;top:494.02px;">12°C und Tiefsttemperaturen um 1°C.</div>
<div class="t" id="coords" style="font:700 20px/1 'Liberation Sans', sans-serif;color:#005C9E;letter-spacing:-0.607px;left:1172.23px;top:234.60px;transform-origin:0 0;transform:rotate(90deg);">33° 39' 39'' N — 95° 33' 28'' W</div>
<div class="t" id="state" style="font:400 12px/1 'Liberation Sans', sans-serif;color:#005C9E;letter-spacing:-0.200px;left:1147.96px;top:236.00px;transform-origin:0 0;transform:rotate(90deg);">TEXAS</div>
<div class="t" id="sec_temp" style="font:700 41px/1 'Liberation Sans', sans-serif;color:#005C9E;letter-spacing:-0.444px;left:460.50px;top:627.59px;">TEMPERATUR</div>
<div class="t" id="sec_prec" style="font:700 41px/1 'Liberation Sans', sans-serif;color:#005C9E;letter-spacing:-1.055px;left:441.00px;top:1384.19px;">NIEDERSCHLAG</div>
<div class="t" id="th1" style="font:700 18px/1 'Liberation Sans', sans-serif;color:#005C9E;letter-spacing:0.077px;left:785.00px;top:748.36px;">DURCHSCHNITTLICHE JÄHRLICHE</div>
<div class="t" id="th2" style="font:700 18px/1 'Liberation Sans', sans-serif;color:#005C9E;letter-spacing:-0.044px;left:786.00px;top:771.96px;">TEMPERATUR</div>
<div class="t" id="tb_0" style="font:400 18.4px/1 'Liberation Sans', sans-serif;color:#005C9E;letter-spacing:0.678px;left:784.40px;top:815.22px;">• Die durchschnittliche jährliche</div>
<div class="t" id="tb_1" style="font:400 18.4px/1 'Liberation Sans', sans-serif;color:#005C9E;letter-spacing:0.810px;left:784.40px;top:838.62px;">Höchsttemperatur beträgt 24.5°C</div>
<div class="t" id="tb_2" style="font:400 18.4px/1 'Liberation Sans', sans-serif;color:#005C9E;letter-spacing:0.678px;left:784.40px;top:886.72px;">• Die durchschnittliche jährliche</div>
<div class="t" id="tb_3" style="font:400 18.4px/1 'Liberation Sans', sans-serif;color:#005C9E;letter-spacing:0.855px;left:784.40px;top:910.12px;">Mindesttemperatur beträgt 12.4°C</div>
<div class="t" id="tb_4" style="font:400 18.4px/1 'Liberation Sans', sans-serif;color:#005C9E;letter-spacing:0.737px;left:784.40px;top:958.32px;">• Die durchschnittliche Tagestemperatur</div>
<div class="t" id="tb_5" style="font:400 18.4px/1 'Liberation Sans', sans-serif;color:#005C9E;letter-spacing:0.391px;left:785.40px;top:981.62px;">für das ganze Jahr beträgt 18.4°C</div>
<div class="t" id="daily" style="font:700 20px/1 'Liberation Sans', sans-serif;color:#005C9E;letter-spacing:0.744px;left:469.30px;top:1137.77px;">TÄGLICHE TEMPERATUR</div>
<div class="t" id="dm_0" style="font:700 17px/1 'Liberation Sans', sans-serif;color:rgba(25,12,5,0.55);left:87.40px;top:1197.61px;transform:translateX(-50%);">JAN</div>
<div class="t" id="dv_0" style="font:700 28.5px/1 'Liberation Sans', sans-serif;color:rgba(25,12,5,0.55);left:87.70px;top:1247.37px;transform:translateX(-50%);">6°</div>
<div class="t" id="dm_1" style="font:700 17px/1 'Liberation Sans', sans-serif;color:rgba(25,12,5,0.55);left:180.61px;top:1197.61px;transform:translateX(-50%);">FEB</div>
<div class="t" id="dv_1" style="font:700 28.5px/1 'Liberation Sans', sans-serif;color:rgba(25,12,5,0.55);left:180.91px;top:1247.37px;transform:translateX(-50%);">8°</div>
<div class="t" id="dm_2" style="font:700 17px/1 'Liberation Sans', sans-serif;color:rgba(25,12,5,0.55);left:273.82px;top:1197.61px;transform:translateX(-50%);">MÄR</div>
<div class="t" id="dv_2" style="font:700 28.5px/1 'Liberation Sans', sans-serif;color:rgba(25,12,5,0.55);left:274.12px;top:1247.37px;transform:translateX(-50%);">13°</div>
<div class="t" id="dm_3" style="font:700 17px/1 'Liberation Sans', sans-serif;color:rgba(25,12,5,0.55);left:367.03px;top:1197.61px;transform:translateX(-50%);">APR</div>
<div class="t" id="dv_3" style="font:700 28.5px/1 'Liberation Sans', sans-serif;color:rgba(25,12,5,0.55);left:367.33px;top:1247.37px;transform:translateX(-50%);">18°</div>
<div class="t" id="dm_4" style="font:700 17px/1 'Liberation Sans', sans-serif;color:rgba(25,12,5,0.55);left:460.24px;top:1197.61px;transform:translateX(-50%);">MAI</div>
<div class="t" id="dv_4" style="font:700 28.5px/1 'Liberation Sans', sans-serif;color:rgba(25,12,5,0.55);left:460.54px;top:1247.37px;transform:translateX(-50%);">22°</div>
<div class="t" id="dm_5" style="font:700 17px/1 'Liberation Sans', sans-serif;color:rgba(25,12,5,0.55);left:553.45px;top:1197.61px;transform:translateX(-50%);">JUN</div>
<div class="t" id="dv_5" style="font:700 28.5px/1 'Liberation Sans', sans-serif;color:rgba(25,12,5,0.55);left:553.75px;top:1247.37px;transform:translateX(-50%);">28°</div>
<div class="t" id="dm_6" style="font:700 17px/1 'Liberation Sans', sans-serif;color:rgba(25,12,5,0.55);left:646.65px;top:1197.61px;transform:translateX(-50%);">JUL</div>
<div class="t" id="dv_6" style="font:700 28.5px/1 'Liberation Sans', sans-serif;color:rgba(25,12,5,0.55);left:646.95px;top:1247.37px;transform:translateX(-50%);">29°</div>
<div class="t" id="dm_7" style="font:700 17px/1 'Liberation Sans', sans-serif;color:rgba(25,12,5,0.55);left:739.86px;top:1197.61px;transform:translateX(-50%);">AUG</div>
<div class="t" id="dv_7" style="font:700 28.5px/1 'Liberation Sans', sans-serif;color:rgba(25,12,5,0.55);left:740.16px;top:1247.37px;transform:translateX(-50%);">30°</div>
<div class="t" id="dm_8" style="font:700 17px/1 'Liberation Sans', sans-serif;color:rgba(25,12,5,0.55);left:833.07px;top:1197.61px;transform:translateX(-50%);">SEP</div>
<div class="t" id="dv_8" style="font:700 28.5px/1 'Liberation Sans', sans-serif;color:rgba(25,12,5,0.55);left:833.37px;top:1247.37px;transform:translateX(-50%);">26°</div>
<div class="t" id="dm_9" style="font:700 17px/1 'Liberation Sans', sans-serif;color:rgba(25,12,5,0.55);left:926.28px;top:1197.61px;transform:translateX(-50%);">OKT</div>
<div class="t" id="dv_9" style="font:700 28.5px/1 'Liberation Sans', sans-serif;color:rgba(25,12,5,0.55);left:926.58px;top:1247.37px;transform:translateX(-50%);">19°</div>
<div class="t" id="dm_10" style="font:700 17px/1 'Liberation Sans', sans-serif;color:rgba(25,12,5,0.55);left:1019.49px;top:1197.61px;transform:translateX(-50%);">NOV</div>
<div class="t" id="dv_10" style="font:700 28.5px/1 'Liberation Sans', sans-serif;color:rgba(25,12,5,0.55);left:1019.79px;top:1247.37px;transform:translateX(-50%);">13°</div>
<div class="t" id="dm_11" style="font:700 17px/1 'Liberation Sans', sans-serif;color:rgba(25,12,5,0.55);left:1112.70px;top:1197.61px;transform:translateX(-50%);">DEZ</div>
<div class="t" id="dv_11" style="font:700 28.5px/1 'Liberation Sans', sans-serif;color:rgba(25,12,5,0.55);left:1113.00px;top:1247.37px;transform:translateX(-50%);">8°</div>
<div class="t" id="pp_0" style="font:400 18.4px/1 'Liberation Sans', sans-serif;color:#005C9E;letter-spacing:0.767px;left:784.20px;top:1507.92px;">Die durchschnittliche jährliche</div>
<div class="t" id="pp_1" style="font:400 18.4px/1 'Liberation Sans', sans-serif;color:#005C9E;letter-spacing:0.612px;left:784.20px;top:1531.59px;">Niederschlagsmenge in Paris beträgt</div>
<div class="t" id="pp_2" style="font:400 18.4px/1 'Liberation Sans', sans-serif;color:#005C9E;letter-spacing:0.700px;left:784.20px;top:1555.26px;">etwa 1418 mm. Der Unterschied</div>
<div class="t" id="pp_3" style="font:400 18.4px/1 'Liberation Sans', sans-serif;color:#005C9E;letter-spacing:0.685px;left:784.20px;top:1578.93px;">zwischen der höchsten</div>
<div class="t" id="pp_4" style="font:400 18.4px/1 'Liberation Sans', sans-serif;color:#005C9E;letter-spacing:0.555px;left:784.20px;top:1602.60px;">Niederschlagsmenge (Mai) und der</div>
<div class="t" id="pp_5" style="font:400 18.4px/1 'Liberation Sans', sans-serif;color:#005C9E;letter-spacing:0.618px;left:784.20px;top:1626.27px;">niedrigsten (Juli) beträgt 113 mm.</div>
<div class="t" id="pp_7" style="font:400 18.4px/1 'Liberation Sans', sans-serif;color:#005C9E;letter-spacing:0.659px;left:784.20px;top:1673.61px;">Die meisten Niederschläge fallen im Mai,</div>
<div class="t" id="pp_8" style="font:400 18.4px/1 'Liberation Sans', sans-serif;color:#005C9E;letter-spacing:0.975px;left:784.20px;top:1697.28px;">mit einer monatlichen</div>
<div class="t" id="pp_9" style="font:400 18.4px/1 'Liberation Sans', sans-serif;color:#005C9E;letter-spacing:0.684px;left:784.20px;top:1720.95px;">Niederschlagsmenge von 187 mm in</div>
<div class="t" id="pp_10" style="font:400 18.4px/1 'Liberation Sans', sans-serif;color:#005C9E;letter-spacing:0.812px;left:784.20px;top:1744.62px;">diesem Zeitraum und einer</div>
<div class="t" id="pp_11" style="font:400 18.4px/1 'Liberation Sans', sans-serif;color:#005C9E;letter-spacing:0.671px;left:784.20px;top:1768.29px;">Niederschlagswahrscheinlichkeit von</div>
<div class="t" id="pp_12" style="font:400 18.4px/1 'Liberation Sans', sans-serif;color:#005C9E;letter-spacing:0.517px;left:784.20px;top:1791.96px;">etwa 33%. Die geringsten</div>
<div class="t" id="pp_13" style="font:400 18.4px/1 'Liberation Sans', sans-serif;color:#005C9E;letter-spacing:0.679px;left:784.20px;top:1815.63px;">Niederschlagsmengen werden dagegen</div>
<div class="t" id="pp_14" style="font:400 18.4px/1 'Liberation Sans', sans-serif;color:#005C9E;letter-spacing:0.765px;left:784.20px;top:1839.30px;">im Juli mit durchschnittlich 74 mm und</div>
<div class="t" id="pp_15" style="font:400 18.4px/1 'Liberation Sans', sans-serif;color:#005C9E;letter-spacing:0.623px;left:784.20px;top:1862.97px;">einer Wahrscheinlichkeit von 15%</div>
<div class="t" id="pp_16" style="font:400 18.4px/1 'Liberation Sans', sans-serif;color:#005C9E;letter-spacing:0.682px;left:785.20px;top:1886.64px;">verzeichnet.</div>
<div class="t" id="ptyp" style="font:700 18px/1 'Liberation Sans', sans-serif;color:#005C9E;letter-spacing:0.100px;left:784.40px;top:1938.06px;">NIEDERSCHLAG NACH TYP</div>
<div class="t" id="pt1" style="font:400 18.4px/1 'Liberation Sans', sans-serif;color:#005C9E;left:784.40px;top:1971.02px;">• Regen: 97%</div>
<div class="t" id="pt2" style="font:400 18.4px/1 'Liberation Sans', sans-serif;color:#005C9E;letter-spacing:0.091px;left:784.40px;top:2000.02px;">• Schnee: 3%</div>
<div class="t" id="probh" style="font:700 16px/1 'Liberation Sans', sans-serif;color:#fff;letter-spacing:-0.433px;left:233.50px;top:1879.46px;">NIEDERSCHLAGSWAHRSCHEINLICHKEIT</div>
<div class="t" id="pv_0" style="font:700 17.6px/1 'Liberation Sans', sans-serif;color:#fff;left:66.29px;top:1959.00px;transform:translateX(-50%);">19%</div>
<div class="t" id="pm_0" style="font:700 12px/1 'Liberation Sans', sans-serif;color:#005C9E;left:65.29px;top:1999.14px;transform:translateX(-50%);">JAN</div>
<div class="t" id="pv_1" style="font:700 17.6px/1 'Liberation Sans', sans-serif;color:#fff;left:124.88px;top:1959.00px;transform:translateX(-50%);">28%</div>
<div class="t" id="pm_1" style="font:700 12px/1 'Liberation Sans', sans-serif;color:#005C9E;left:123.88px;top:1999.14px;transform:translateX(-50%);">FEB</div>
<div class="t" id="pv_2" style="font:700 17.6px/1 'Liberation Sans', sans-serif;color:#fff;left:183.46px;top:1959.00px;transform:translateX(-50%);">30%</div>
<div class="t" id="pm_2" style="font:700 12px/1 'Liberation Sans', sans-serif;color:#005C9E;left:182.46px;top:1999.14px;transform:translateX(-50%);">MÄR</div>
<div class="t" id="pv_3" style="font:700 17.6px/1 'Liberation Sans', sans-serif;color:#fff;left:242.04px;top:1959.00px;transform:translateX(-50%);">31%</div>
<div class="t" id="pm_3" style="font:700 12px/1 'Liberation Sans', sans-serif;color:#005C9E;left:241.04px;top:1999.14px;transform:translateX(-50%);">APR</div>
<div class="t" id="pv_4" style="font:700 17.6px/1 'Liberation Sans', sans-serif;color:#fff;left:300.62px;top:1959.00px;transform:translateX(-50%);">33%</div>
<div class="t" id="pm_4" style="font:700 12px/1 'Liberation Sans', sans-serif;color:#005C9E;left:299.62px;top:1999.14px;transform:translateX(-50%);">MAI</div>
<div class="t" id="pv_5" style="font:700 17.6px/1 'Liberation Sans', sans-serif;color:#fff;left:359.21px;top:1959.00px;transform:translateX(-50%);">20%</div>
<div class="t" id="pm_5" style="font:700 12px/1 'Liberation Sans', sans-serif;color:#005C9E;left:358.21px;top:1999.14px;transform:translateX(-50%);">JUN</div>
<div class="t" id="pv_6" style="font:700 17.6px/1 'Liberation Sans', sans-serif;color:#fff;left:417.79px;top:1959.00px;transform:translateX(-50%);">15%</div>
<div class="t" id="pm_6" style="font:700 12px/1 'Liberation Sans', sans-serif;color:#005C9E;left:416.79px;top:1999.14px;transform:translateX(-50%);">JUL</div>
<div class="t" id="pv_7" style="font:700 17.6px/1 'Liberation Sans', sans-serif;color:#fff;left:476.38px;top:1959.00px;transform:translateX(-50%);">16%</div>
<div class="t" id="pm_7" style="font:700 12px/1 'Liberation Sans', sans-serif;color:#005C9E;left:475.38px;top:1999.14px;transform:translateX(-50%);">AUG</div>
<div class="t" id="pv_8" style="font:700 17.6px/1 'Liberation Sans', sans-serif;color:#fff;left:534.96px;top:1959.00px;transform:translateX(-50%);">17%</div>
<div class="t" id="pm_8" style="font:700 12px/1 'Liberation Sans', sans-serif;color:#005C9E;left:533.96px;top:1999.14px;transform:translateX(-50%);">SEP</div>
<div class="t" id="pv_9" style="font:700 17.6px/1 'Liberation Sans', sans-serif;color:#fff;left:593.54px;top:1959.00px;transform:translateX(-50%);">22%</div>
<div class="t" id="pm_9" style="font:700 12px/1 'Liberation Sans', sans-serif;color:#005C9E;left:592.54px;top:1999.14px;transform:translateX(-50%);">OKT</div>
<div class="t" id="pv_10" style="font:700 17.6px/1 'Liberation Sans', sans-serif;color:#fff;left:652.12px;top:1959.00px;transform:translateX(-50%);">24%</div>
<div class="t" id="pm_10" style="font:700 12px/1 'Liberation Sans', sans-serif;color:#005C9E;left:651.12px;top:1999.14px;transform:translateX(-50%);">NOV</div>
<div class="t" id="pv_11" style="font:700 17.6px/1 'Liberation Sans', sans-serif;color:#fff;left:710.71px;top:1959.00px;transform:translateX(-50%);">23%</div>
<div class="t" id="pm_11" style="font:700 12px/1 'Liberation Sans', sans-serif;color:#005C9E;left:709.71px;top:1999.14px;transform:translateX(-50%);">DEZ</div>
<div class="t" id="cc" style="font:700 14.6px/1 'DejaVu Sans', 'Liberation Sans', sans-serif;color:#B0DCFF;letter-spacing:0.072px;left:184.43px;top:2105.85px;transform-origin:0 0;transform:scaleX(1.07);">CC BY-ND 4.0</div>
<div class="t" id="site" style="font:700 21.5px/1 'Liberation Sans', sans-serif;color:#fff;letter-spacing:-0.292px;left:979.00px;top:2101.80px;">METEOATLAS.DE</div>
<div class="t" id="ty_0" style="font:400 10.5px/1 'Liberation Sans', sans-serif;color:#0F62A3;letter-spacing:0.450px;left:94.60px;top:1020.01px;transform:translateX(-100%);margin-left:0.45px;">0°C</div>
<div class="t" id="ty_1" style="font:400 10.5px/1 'Liberation Sans', sans-serif;color:#0F62A3;letter-spacing:0.450px;left:94.60px;top:985.62px;transform:translateX(-100%);margin-left:0.45px;">5°C</div>
<div class="t" id="ty_2" style="font:400 10.5px/1 'Liberation Sans', sans-serif;color:#0F62A3;letter-spacing:0.450px;left:94.60px;top:951.24px;transform:translateX(-100%);margin-left:0.45px;">10°C</div>
<div class="t" id="ty_3" style="font:400 10.5px/1 'Liberation Sans', sans-serif;color:#0F62A3;letter-spacing:0.450px;left:94.60px;top:916.85px;transform:translateX(-100%);margin-left:0.45px;">15°C</div>
<div class="t" id="ty_4" style="font:400 10.5px/1 'Liberation Sans', sans-serif;color:#0F62A3;letter-spacing:0.450px;left:94.60px;top:882.46px;transform:translateX(-100%);margin-left:0.45px;">20°C</div>
<div class="t" id="ty_5" style="font:400 10.5px/1 'Liberation Sans', sans-serif;color:#0F62A3;letter-spacing:0.450px;left:94.60px;top:848.07px;transform:translateX(-100%);margin-left:0.45px;">25°C</div>
<div class="t" id="ty_6" style="font:400 10.5px/1 'Liberation Sans', sans-serif;color:#0F62A3;letter-spacing:0.450px;left:94.60px;top:813.69px;transform:translateX(-100%);margin-left:0.45px;">30°C</div>
<div class="t" id="ty_7" style="font:400 10.5px/1 'Liberation Sans', sans-serif;color:#0F62A3;letter-spacing:0.450px;left:94.60px;top:779.30px;transform:translateX(-100%);margin-left:0.45px;">35°C</div>
<div class="t" id="ty_8" style="font:400 10.5px/1 'Liberation Sans', sans-serif;color:#0F62A3;letter-spacing:0.450px;left:94.60px;top:744.91px;transform:translateX(-100%);margin-left:0.45px;">40°C</div>
<div class="t" id="tx_0" style="font:400 13px/1 'Liberation Sans', sans-serif;color:#0F62A3;left:129.80px;top:1034.80px;transform:translateX(-50%);">Jan</div>
<div class="t" id="tx_1" style="font:400 13px/1 'Liberation Sans', sans-serif;color:#0F62A3;left:181.85px;top:1034.80px;transform:translateX(-50%);">Feb</div>
<div class="t" id="tx_2" style="font:400 13px/1 'Liberation Sans', sans-serif;color:#0F62A3;left:233.90px;top:1034.80px;transform:translateX(-50%);">Mär</div>
<div class="t" id="tx_3" style="font:400 13px/1 'Liberation Sans', sans-serif;color:#0F62A3;left:285.95px;top:1034.80px;transform:translateX(-50%);">Apr</div>
<div class="t" id="tx_4" style="font:400 13px/1 'Liberation Sans', sans-serif;color:#0F62A3;left:338.00px;top:1034.80px;transform:translateX(-50%);">Mai</div>
<div class="t" id="tx_5" style="font:400 13px/1 'Liberation Sans', sans-serif;color:#0F62A3;left:390.05px;top:1034.80px;transform:translateX(-50%);">Jun</div>
<div class="t" id="tx_6" style="font:400 13px/1 'Liberation Sans', sans-serif;color:#0F62A3;left:442.10px;top:1034.80px;transform:translateX(-50%);">Jul</div>
<div class="t" id="tx_7" style="font:400 13px/1 'Liberation Sans', sans-serif;color:#0F62A3;left:494.15px;top:1034.80px;transform:translateX(-50%);">Aug</div>
<div class="t" id="tx_8" style="font:400 13px/1 'Liberation Sans', sans-serif;color:#0F62A3;left:546.20px;top:1034.80px;transform:translateX(-50%);">Sep</div>
<div class="t" id="tx_9" style="font:400 13px/1 'Liberation Sans', sans-serif;color:#0F62A3;left:598.25px;top:1034.80px;transform:translateX(-50%);">Okt</div>
<div class="t" id="tx_10" style="font:400 13px/1 'Liberation Sans', sans-serif;color:#0F62A3;left:650.30px;top:1034.80px;transform:translateX(-50%);">Nov</div>
<div class="t" id="tx_11" style="font:400 13px/1 'Liberation Sans', sans-serif;color:#0F62A3;left:702.35px;top:1034.80px;transform:translateX(-50%);">Dez</div>
<div class="t" id="tyt" style="font:400 13px/1 'Liberation Sans', sans-serif;color:#0F62A3;letter-spacing:1.000px;left:38.80px;top:926.00px;transform-origin:0 0;transform:rotate(-90deg);">Temperatur</div>
<div class="t" id="leg1" style="font:400 13px/1 'Liberation Sans', sans-serif;color:#0F62A3;letter-spacing:0.778px;left:236.00px;top:1073.00px;">Maximale Temperatur</div>
<div class="t" id="leg2" style="font:400 13px/1 'Liberation Sans', sans-serif;color:#0F62A3;letter-spacing:0.833px;left:443.00px;top:1073.00px;">Minimale Temperatur</div>
<div class="t" id="py_0" style="font:400 10.5px/1 'Liberation Sans', sans-serif;color:#0F62A3;letter-spacing:0.400px;left:104.20px;top:1778.11px;transform:translateX(-100%);margin-left:0.40px;">0 mm</div>
<div class="t" id="py_1" style="font:400 10.5px/1 'Liberation Sans', sans-serif;color:#0F62A3;letter-spacing:0.400px;left:104.20px;top:1750.70px;transform:translateX(-100%);margin-left:0.40px;">20 mm</div>
<div class="t" id="py_2" style="font:400 10.5px/1 'Liberation Sans', sans-serif;color:#0F62A3;letter-spacing:0.400px;left:104.20px;top:1723.29px;transform:translateX(-100%);margin-left:0.40px;">40 mm</div>
<div class="t" id="py_3" style="font:400 10.5px/1 'Liberation Sans', sans-serif;color:#0F62A3;letter-spacing:0.400px;left:104.20px;top:1695.88px;transform:translateX(-100%);margin-left:0.40px;">60 mm</div>
<div class="t" id="py_4" style="font:400 10.5px/1 'Liberation Sans', sans-serif;color:#0F62A3;letter-spacing:0.400px;left:104.20px;top:1668.47px;transform:translateX(-100%);margin-left:0.40px;">80 mm</div>
<div class="t" id="py_5" style="font:400 10.5px/1 'Liberation Sans', sans-serif;color:#0F62A3;letter-spacing:0.400px;left:104.20px;top:1641.06px;transform:translateX(-100%);margin-left:0.40px;">100 mm</div>
<div class="t" id="py_6" style="font:400 10.5px/1 'Liberation Sans', sans-serif;color:#0F62A3;letter-spacing:0.400px;left:104.20px;top:1613.65px;transform:translateX(-100%);margin-left:0.40px;">120 mm</div>
<div class="t" id="py_7" style="font:400 10.5px/1 'Liberation Sans', sans-serif;color:#0F62A3;letter-spacing:0.400px;left:104.20px;top:1586.24px;transform:translateX(-100%);margin-left:0.40px;">140 mm</div>
<div class="t" id="py_8" style="font:400 10.5px/1 'Liberation Sans', sans-serif;color:#0F62A3;letter-spacing:0.400px;left:104.20px;top:1558.83px;transform:translateX(-100%);margin-left:0.40px;">160 mm</div>
<div class="t" id="py_9" style="font:400 10.5px/1 'Liberation Sans', sans-serif;color:#0F62A3;letter-spacing:0.400px;left:104.20px;top:1531.42px;transform:translateX(-100%);margin-left:0.40px;">180 mm</div>
<div class="t" id="py_10" style="font:400 10.5px/1 'Liberation Sans', sans-serif;color:#0F62A3;letter-spacing:0.400px;left:104.20px;top:1504.01px;transform:translateX(-100%);margin-left:0.40px;">200 mm</div>
<div class="t" id="px_0" style="font:400 13px/1 'Liberation Sans', sans-serif;color:#0F62A3;left:139.15px;top:1793.60px;transform:translateX(-50%);">Jan</div>
<div class="t" id="px_1" style="font:400 13px/1 'Liberation Sans', sans-serif;color:#0F62A3;left:190.44px;top:1793.60px;transform:translateX(-50%);">Feb</div>
<div class="t" id="px_2" style="font:400 13px/1 'Liberation Sans', sans-serif;color:#0F62A3;left:241.73px;top:1793.60px;transform:translateX(-50%);">Mär</div>
<div class="t" id="px_3" style="font:400 13px/1 'Liberation Sans', sans-serif;color:#0F62A3;left:293.02px;top:1793.60px;transform:translateX(-50%);">Apr</div>
<div class="t" id="px_4" style="font:400 13px/1 'Liberation Sans', sans-serif;color:#0F62A3;left:344.31px;top:1793.60px;transform:translateX(-50%);">Mai</div>
<div class="t" id="px_5" style="font:400 13px/1 'Liberation Sans', sans-serif;color:#0F62A3;left:395.60px;top:1793.60px;transform:translateX(-50%);">Jun</div>
<div class="t" id="px_6" style="font:400 13px/1 'Liberation Sans', sans-serif;color:#0F62A3;left:446.90px;top:1793.60px;transform:translateX(-50%);">Jul</div>
<div class="t" id="px_7" style="font:400 13px/1 'Liberation Sans', sans-serif;color:#0F62A3;left:498.19px;top:1793.60px;transform:translateX(-50%);">Aug</div>
<div class="t" id="px_8" style="font:400 13px/1 'Liberation Sans', sans-serif;color:#0F62A3;left:549.48px;top:1793.60px;transform:translateX(-50%);">Sep</div>
<div class="t" id="px_9" style="font:400 13px/1 'Liberation Sans', sans-serif;color:#0F62A3;left:600.77px;top:1793.60px;transform:translateX(-50%);">Okt</div>
<div class="t" id="px_10" style="font:400 13px/1 'Liberation Sans', sans-serif;color:#0F62A3;left:652.06px;top:1793.60px;transform:translateX(-50%);">Nov</div>
<div class="t" id="px_11" style="font:400 13px/1 'Liberation Sans', sans-serif;color:#0F62A3;left:703.35px;top:1793.60px;transform:translateX(-50%);">Dez</div>
<div class="t" id="pyt" style="font:400 13px/1 'Liberation Sans', sans-serif;color:#0F62A3;letter-spacing:0.818px;left:38.80px;top:1691.00px;transform-origin:0 0;transform:rotate(-90deg);">Niederschlag</div>
<div class="t" id="pleg" style="font:400 13px/1 'Liberation Sans', sans-serif;color:#0F62A3;letter-spacing:0.706px;left:328.00px;top:1831.80px;">Niederschlagssumme</div>
</div></body></html>
